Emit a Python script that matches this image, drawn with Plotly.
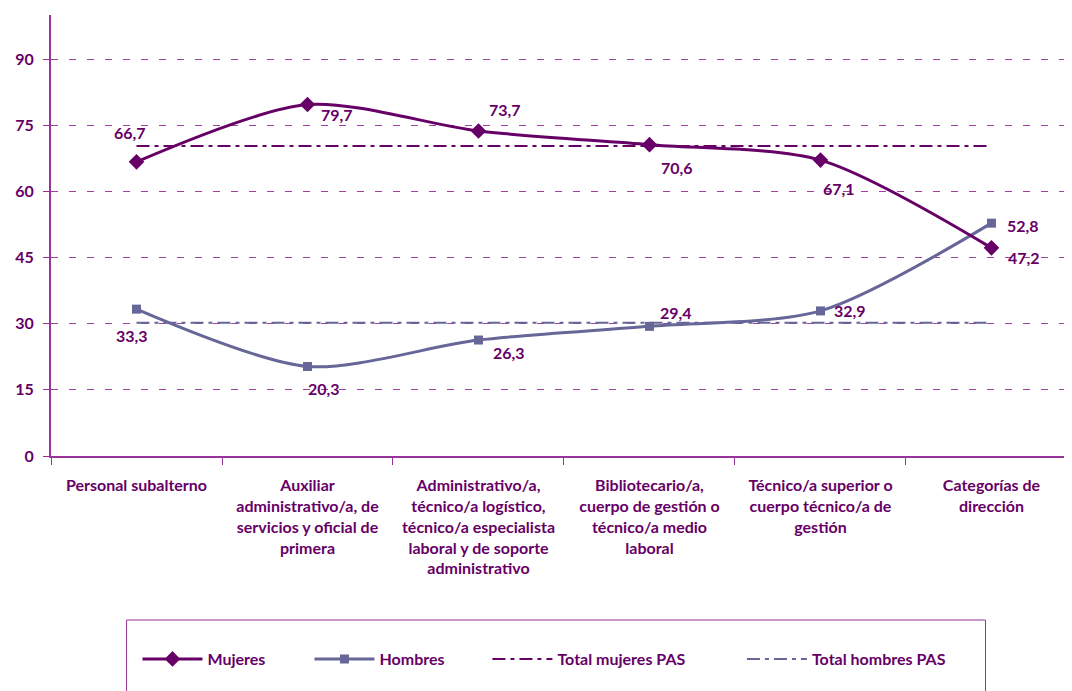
import plotly.graph_objects as go

# Categorías de personal (PAS)
CATEGORIES = [
    "Personal subalterno",
    "Auxiliar<br>administrativo/a, de<br>servicios y oficial de<br>primera",
    "Administrativo/a,<br>técnico/a logístico,<br>técnico/a especialista<br>laboral y de soporte<br>administrativo",
    "Bibliotecario/a,<br>cuerpo de gestión o<br>técnico/a medio<br>laboral",
    "Técnico/a superior o<br>cuerpo técnico/a de<br>gestión",
    "Categorías de<br>dirección",
]
MUJERES = [66.7, 79.7, 73.7, 70.6, 67.1, 47.2]
HOMBRES = [33.3, 20.3, 26.3, 29.4, 32.9, 52.8]
TOTAL_MUJERES_PAS = 70.3
TOTAL_HOMBRES_PAS = 30.2
Y_TICKS = [0, 15, 30, 45, 60, 75, 90]

# label offsets (px) relative to each marker: (dx, dy), dy positive = down
MUJ_OFFSETS = [(-7, -29), (30, 10), (27, -21), (28, 23), (19, 28), (33, 10)]
HOM_OFFSETS = [(-5, 26), (17, 22), (31, 12), (27, -14), (30, 0), (32, 2)]

C_MUJ = "#660066"
C_HOM = "#666699"
C_AXIS = "#993399"
C_TEXT = "#660066"
FONT = "Lato"

fig = go.Figure()

fig.add_trace(go.Scatter(
    x=CATEGORIES, y=[TOTAL_MUJERES_PAS] * len(CATEGORIES), mode="lines",
    name="Total mujeres PAS", legend="legend3",
    line=dict(color=C_MUJ, width=2, dash="13px,5px,4px,5px"),
))
fig.add_trace(go.Scatter(
    x=CATEGORIES, y=[TOTAL_HOMBRES_PAS] * len(CATEGORIES), mode="lines",
    name="Total hombres PAS", legend="legend4",
    line=dict(color=C_HOM, width=2, dash="13px,5px,4px,5px"),
))
fig.add_trace(go.Scatter(
    x=CATEGORIES, y=HOMBRES, mode="lines+markers", name="Hombres",
    legend="legend2",
    line=dict(color=C_HOM, width=3, shape="spline", smoothing=0.8),
    marker=dict(symbol="square", size=9, color=C_HOM),
))
fig.add_trace(go.Scatter(
    x=CATEGORIES, y=MUJERES, mode="lines+markers", name="Mujeres",
    legend="legend",
    line=dict(color=C_MUJ, width=3, shape="spline", smoothing=0.8),
    marker=dict(symbol="diamond", size=12, color=C_MUJ),
))

label_font = dict(family=FONT, size=16, color=C_TEXT, weight="bold")
for values, offsets in ((MUJERES, MUJ_OFFSETS), (HOMBRES, HOM_OFFSETS)):
    for cat, v, (dx, dy) in zip(CATEGORIES, values, offsets):
        fig.add_annotation(
            x=cat, y=v, text=f"{v:.1f}".replace(".", ","), showarrow=False,
            xshift=dx, yshift=-dy, font=label_font,
        )

# page has an 8px body margin around the figure
OFF = 8
W, H = 1072, 691
L, R, T, B = 45 - OFF, OFF, 15 - OFF, 691 - 456 + OFF
pw, ph = W - L - R, H - T - B


def px_x(p):
    return (p - OFF - L) / pw


def px_y(q):
    return (H - B - (q - OFF)) / ph


leg_common = dict(
    orientation="h", yanchor="middle", xanchor="left", y=px_y(659),
    bgcolor="rgba(0,0,0,0)", itemwidth=60,
    font=dict(family=FONT, size=16, color=C_TEXT, weight="bold"),
)

fig.update_layout(
    width=W, height=H,
    margin=dict(l=L, r=R, t=T, b=B),
    paper_bgcolor="white", plot_bgcolor="white",
    font=dict(family=FONT, size=16, color=C_TEXT),
    showlegend=True,
    legend=dict(leg_common, x=px_x(132)),
    legend2=dict(leg_common, x=px_x(305)),
    legend3=dict(leg_common, x=px_x(484)),
    legend4=dict(leg_common, x=px_x(740)),
    shapes=[dict(
        type="rect", xref="paper", yref="paper",
        x0=px_x(121), x1=px_x(985), y0=px_y(720), y1=px_y(620),
        line=dict(color=C_AXIS, width=1), fillcolor="rgba(0,0,0,0)",
    )],
)

fig.update_xaxes(
    type="category", range=[-0.5, -0.5 + pw / 172],
    showline=True, linecolor=C_AXIS, linewidth=2,
    ticks="outside", tickson="boundaries", ticklen=7, tickcolor=C_AXIS,
    ticklabelstandoff=14,
    showgrid=False,
    tickfont=dict(family=FONT, size=16, color=C_TEXT, weight="bold"),
)
fig.update_yaxes(
    range=[0, 100], tickvals=Y_TICKS,
    showline=True, linecolor=C_AXIS, linewidth=2,
    ticks="outside", ticklen=6, tickcolor=C_AXIS,
    ticklabelstandoff=6,
    showgrid=True, gridcolor="#A040A0", gridwidth=1, griddash="7px,11px",
    zeroline=False,
    tickfont=dict(family=FONT, size=16, color=C_TEXT, weight="bold"),
)

fig.write_html("out.html")
